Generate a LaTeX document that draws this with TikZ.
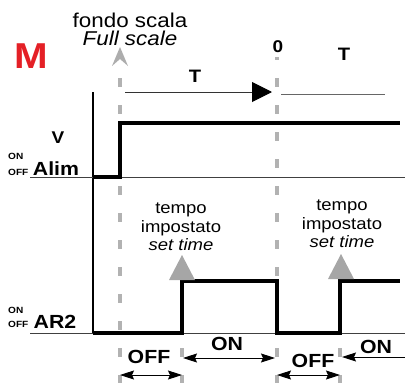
\documentclass[tikz,border=0pt]{standalone}
\usepackage{fontspec}
\setmainfont{Liberation Sans}[FakeStretch=1.12]
\usetikzlibrary{arrows.meta, positioning}
\definecolor{mred}{RGB}{228,32,38}

\begin{document}
\begin{tikzpicture}[
      x=1pt, y=-1pt,
      >=Stealth,
      txt/.style={inner sep=0pt, anchor=base},
      hdr/.style={txt, font=\fontsize{20}{20}\selectfont},
      sig/.style={txt, font=\fontsize{19}{19}\selectfont\bfseries},
      onoff/.style={inner sep=0pt, anchor=base west, font=\fontsize{9}{9}\selectfont\bfseries},
      cue/.style={inner sep=0pt, align=center, font=\fontsize{16.5}{18.5}\selectfont},
      trace/.style={line width=4.5pt, line join=miter},
      base/.style={line width=0.8pt, black!75},
      guide/.style={line width=4.5pt, black!30, dash pattern=on 9pt off 18pt},
      span/.style={<->, line width=0.9pt, >={Stealth[length=14pt, width=9pt, inset=2pt]}},
      flag/.style={fill=black!35}
    ]
    \useasboundingbox (0,0) rectangle (405,383);

    % titles
    \node[txt, text=mred, font=\fontsize{36}{36}\selectfont\bfseries] (mode) at (31,68) {M};
    \node[hdr] (fondo) at (130,27) {fondo scala};
    \node[hdr, font=\fontsize{20}{20}\selectfont\itshape, below=3.5pt of fondo] (full) {Full scale};

    % time marks
    \coordinate (fs) at (120,47);  \coordinate (fsbot) at (120,383);
    \coordinate (zero) at (277,57); \coordinate (zbot) at (277,383);
    \coordinate (st1) at (182,337); \coordinate (st1bot) at (182,383);
    \coordinate (st2) at (340,337); \coordinate (st2bot) at (340,383);
    \fill[black!32] (fs) -- (128,66) -- (120,59) -- (112,66) -- cycle;
    \draw[guide, dash phase=9pt] (120,60) -- (fsbot);
    \draw[guide, dash phase=6pt] (zero) -- (zbot);
    \draw[guide, dash phase=16pt] (st1) -- (st1bot);
    \draw[guide, dash phase=16pt] (st2) -- (st2bot);
    \node[txt, font=\fontsize{17}{17}\selectfont\bfseries] (zlbl) at (278,52) {0};

    % period T
    \coordinate (t0) at (125,92); \coordinate (t1) at (272,92);
    \coordinate (t2) at (281,94); \coordinate (t3) at (385,94);
    \draw[line width=1pt, black!80, -{Triangle[length=20pt, width=20pt, black]}] (t0) -- (t1);
    \draw[line width=1pt, black!60] (t2) -- (t3);
    \node[txt, font=\fontsize{18}{18}\selectfont\bfseries] (tlbl) at (195,82) {T};
    \node[txt, font=\fontsize{18}{18}\selectfont\bfseries] (tlbl2) at (344,60) {T};

    % axes
    \coordinate (ax) at (93,92); \coordinate (ax0) at (93,333);
    \draw[line width=2.3pt] (ax) -- (ax0);
    \draw[base] (30,177) -- (405,177);
    \draw[base] (30,333) -- (405,333);

    % supply
    \node[txt, font=\fontsize{17}{17}\selectfont\bfseries] (vlbl) at (58,143) {V};
    \node[sig] (alim) at (56,175) {Alim};
    \node[onoff] (on1) at (8,159) {ON};
    \node[onoff] (off1) at (8,175) {OFF};
    \draw[trace] (93,177) -- (120,177) -- (120,123) -- (400,123);

    % relay
    \node[sig] (ar2) at (55,328) {AR2};
    \node[onoff] (on2) at (8,313) {ON};
    \node[onoff] (off2) at (8,327) {OFF};
    \draw[trace] (93,333) -- (182,333) -- (182,281) -- (277,281) -- (277,333)
                 -- (340,333) -- (340,281) -- (400,281);

    % set time
    \fill[flag] (182,255) -- ++(-13,25) -- ++(26,0) -- cycle;
    \fill[flag] (341,254) -- ++(-13,25) -- ++(26,0) -- cycle;
    \node[cue] (set1) at (181,227) {tempo\\impostato\\\textit{set time}};
    \node[cue] (set2) at (342,224) {tempo\\impostato\\\textit{set time}};

    % on / off spans
    \draw[span] (120,375) -- (182,375);
    \draw[span] (183,358) -- (275,358);
    \draw[span] (277,375) -- (340,375);
    \draw[span, <-] (342,357) -- (405,357);
    \node[sig] (offa) at (149,363) {OFF};
    \node[sig] (ona) at (227,350) {ON};
    \node[sig] (offb) at (313,367) {OFF};
    \node[sig] (onb) at (376,353) {ON};

  \end{tikzpicture}
\end{document}
